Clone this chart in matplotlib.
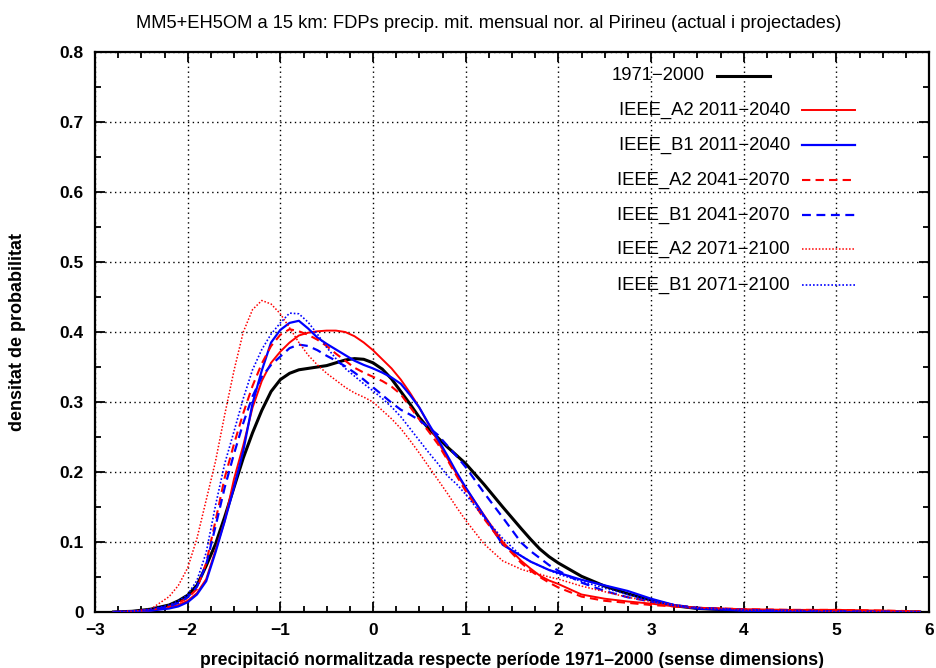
import matplotlib
matplotlib.use("Agg")
import matplotlib.pyplot as plt
from matplotlib.ticker import MultipleLocator, FormatStrFormatter

# Common abscissa grid (normalised precipitation, dimensionless)
x = [-2.8, -2.6, -2.4, -2.2, -2.1, -2.0, -1.9, -1.8, -1.7, -1.6, -1.5, -1.4, -1.3, -1.2,
     -1.1, -1.0, -0.9, -0.8, -0.7, -0.6, -0.5, -0.4, -0.3, -0.2, -0.1, 0.0, 0.1,
     0.2, 0.3, 0.4, 0.5, 0.6, 0.7, 0.8, 0.9, 1.0, 1.2, 1.4, 1.6, 1.7, 1.8, 1.9, 2.0,
     2.25, 2.5, 2.75, 3.0, 3.25, 3.5, 4.0, 4.5, 5.0, 5.5, 5.9]

ctrl_1971_2000 = [0.0, 0.001, 0.004, 0.010, 0.016, 0.024, 0.038, 0.066, 0.097, 0.136,
                  0.178, 0.220, 0.256, 0.288, 0.315, 0.332, 0.341, 0.346, 0.348, 0.350,
                  0.352, 0.356, 0.360, 0.362, 0.361, 0.356, 0.347, 0.333, 0.315, 0.297,
                  0.278, 0.262, 0.249, 0.236, 0.224, 0.212, 0.182, 0.150, 0.119, 0.104,
                  0.090, 0.079, 0.070, 0.051, 0.037, 0.026, 0.017, 0.009, 0.005, 0.002,
                  0.001, 0.0005, 0.0, 0.0]

a2_2011_2040 = [0.0, 0.0005, 0.002, 0.006, 0.010, 0.016, 0.027, 0.047, 0.088, 0.130,
                0.190, 0.238, 0.292, 0.330, 0.356, 0.372, 0.385, 0.395, 0.399, 0.401,
                0.402, 0.402, 0.400, 0.394, 0.385, 0.374, 0.361, 0.348, 0.332, 0.313,
                0.292, 0.268, 0.244, 0.220, 0.198, 0.177, 0.138, 0.100, 0.073, 0.062,
                0.052, 0.045, 0.040, 0.025, 0.019, 0.015, 0.012, 0.008, 0.006, 0.004,
                0.003, 0.003, 0.002, 0.0005]

b1_2011_2040 = [0.0, 0.0005, 0.002, 0.005, 0.008, 0.014, 0.025, 0.044, 0.085, 0.130,
                0.178, 0.230, 0.298, 0.345, 0.385, 0.403, 0.413, 0.416, 0.405, 0.392,
                0.383, 0.375, 0.367, 0.359, 0.353, 0.348, 0.342, 0.335, 0.326, 0.310,
                0.292, 0.269, 0.247, 0.224, 0.200, 0.178, 0.137, 0.096, 0.080, 0.072,
                0.066, 0.060, 0.056, 0.046, 0.038, 0.030, 0.019, 0.010, 0.005, 0.002,
                0.001, 0.0005, 0.0, 0.0]

a2_2041_2070 = [0.0, 0.001, 0.003, 0.008, 0.013, 0.020, 0.033, 0.070, 0.130, 0.192,
                0.240, 0.284, 0.323, 0.355, 0.380, 0.396, 0.404, 0.401, 0.396, 0.389,
                0.380, 0.369, 0.359, 0.349, 0.342, 0.336, 0.330, 0.322, 0.311, 0.293,
                0.275, 0.258, 0.240, 0.218, 0.195, 0.173, 0.133, 0.098, 0.070, 0.059,
                0.050, 0.042, 0.035, 0.022, 0.016, 0.013, 0.010, 0.008, 0.006, 0.004,
                0.003, 0.003, 0.002, 0.001]

b1_2041_2070 = [0.0, 0.001, 0.003, 0.008, 0.013, 0.021, 0.036, 0.068, 0.122, 0.178,
                0.226, 0.270, 0.308, 0.336, 0.353, 0.365, 0.377, 0.382, 0.380, 0.374,
                0.366, 0.359, 0.351, 0.342, 0.332, 0.321, 0.310, 0.299, 0.289, 0.282,
                0.274, 0.264, 0.253, 0.238, 0.223, 0.207, 0.170, 0.135, 0.099, 0.087,
                0.077, 0.067, 0.059, 0.042, 0.030, 0.021, 0.015, 0.010, 0.006, 0.003,
                0.002, 0.001, 0.0005, 0.0]

a2_2071_2100 = [0.0, 0.001, 0.004, 0.022, 0.038, 0.063, 0.105, 0.160, 0.215, 0.282,
                0.345, 0.400, 0.432, 0.445, 0.440, 0.426, 0.406, 0.385, 0.367, 0.353,
                0.341, 0.331, 0.321, 0.313, 0.307, 0.300, 0.288, 0.276, 0.262, 0.245,
                0.227, 0.208, 0.189, 0.170, 0.150, 0.131, 0.097, 0.073, 0.061, 0.057,
                0.054, 0.050, 0.047, 0.037, 0.029, 0.021, 0.015, 0.010, 0.006, 0.003,
                0.002, 0.001, 0.0005, 0.0]

b1_2071_2100 = [0.0, 0.001, 0.004, 0.010, 0.016, 0.025, 0.045, 0.085, 0.152, 0.212,
                0.258, 0.305, 0.346, 0.375, 0.397, 0.413, 0.427, 0.426, 0.414, 0.397,
                0.378, 0.362, 0.348, 0.337, 0.326, 0.316, 0.305, 0.293, 0.279, 0.262,
                0.245, 0.228, 0.212, 0.195, 0.183, 0.168, 0.135, 0.105, 0.080, 0.072,
                0.066, 0.060, 0.054, 0.044, 0.034, 0.025, 0.016, 0.009, 0.005, 0.002,
                0.001, 0.0005, 0.0, 0.0]

labels = ["1971\u22122000", "IEEE_A2 2011\u22122040", "IEEE_B1 2011\u22122040",
          "IEEE_A2 2041\u22122070", "IEEE_B1 2041\u22122070",
          "IEEE_A2 2071\u22122100", "IEEE_B1 2071\u22122100"]
series = [ctrl_1971_2000, a2_2011_2040, b1_2011_2040, a2_2041_2070,
          b1_2041_2070, a2_2071_2100, b1_2071_2100]

colors = ["black", "#ff0000", "#0000ff", "#ff0000", "#0000ff", "#ff0000", "#0000ff"]
widths = [2.2, 1.4, 1.6, 1.5, 1.6, 1.1, 1.2]
styles = ["-", "-", "-", (0, (4, 2.5)), (0, (4, 2.5)), (0, (1, 1.2)), (0, (1, 1.2))]

plt.rcParams["font.family"] = ["Liberation Sans", "DejaVu Sans"]

fig = plt.figure(figsize=(9.36, 6.68), dpi=100)
ax = fig.add_axes([95 / 936, 1 - 612 / 668, 834 / 936, 560 / 668])

for ys, c, lw, ls in zip(series, colors, widths, styles):
    ax.plot(x, ys, color=c, lw=lw, linestyle=ls, zorder=3)

ax.set_xlim(-3, 6)
ax.set_ylim(0, 0.8)
ax.xaxis.set_major_locator(MultipleLocator(1))
ax.xaxis.set_minor_locator(MultipleLocator(0.25))
ax.yaxis.set_major_locator(MultipleLocator(0.1))
ax.yaxis.set_minor_locator(MultipleLocator(0.05))
ax.yaxis.set_major_formatter(FormatStrFormatter("%g"))
ax.xaxis.set_major_formatter(plt.FuncFormatter(lambda v, p: f"{int(round(v))}".replace("-", "\u2212")))

ax.tick_params(which="both", direction="in", top=True, right=True, width=1.3)
ax.tick_params(which="major", length=7, labelsize=12.5, pad=8)
ax.tick_params(which="minor", length=4)
for lab in ax.get_xticklabels() + ax.get_yticklabels():
    lab.set_fontweight("bold")

ax.grid(True, which="major", color="black", linestyle=(0, (1, 2.5)), linewidth=1.0)
for sp in ax.spines.values():
    sp.set_linewidth(1.6)

ax.set_xlabel("precipitació normalitzada respecte període 1971\u20132000 (sense dimensions)",
              fontsize=12.7, fontweight="bold", labelpad=10)
ax.set_ylabel("densitat de probabilitat", fontsize=13, fontweight="bold", labelpad=24)
fig.text(0.5 * (130 + 848) / 936, 1 - 23 / 668,
         "MM5+EH5OM a 15 km: FDPs precip. mit. mensual nor. al Pirineu (actual i projectades)",
         ha="center", va="center", fontsize=13.2)

# Key: right-aligned labels with line samples next to them
rows_px = [76, 110, 145, 180, 215, 249, 285]
for i, (lab, c, lw, ls, ypx) in enumerate(zip(labels, colors, widths, styles, rows_px)):
    ya = (612 - ypx) / 560
    if i == 0:
        tx, x0, x1 = 705, 717, 770
    else:
        tx, x0, x1 = 790, 802, 855
    ax.text((tx - 95) / 834, ya, lab, transform=ax.transAxes, ha="right", va="center",
            fontsize=13.3, zorder=5)
    ax.plot([(x0 - 95) / 834, (x1 - 95) / 834], [ya, ya], transform=ax.transAxes,
            color=c, lw=lw, linestyle=ls, zorder=5, clip_on=False)

fig.savefig("out.png", dpi=100)
